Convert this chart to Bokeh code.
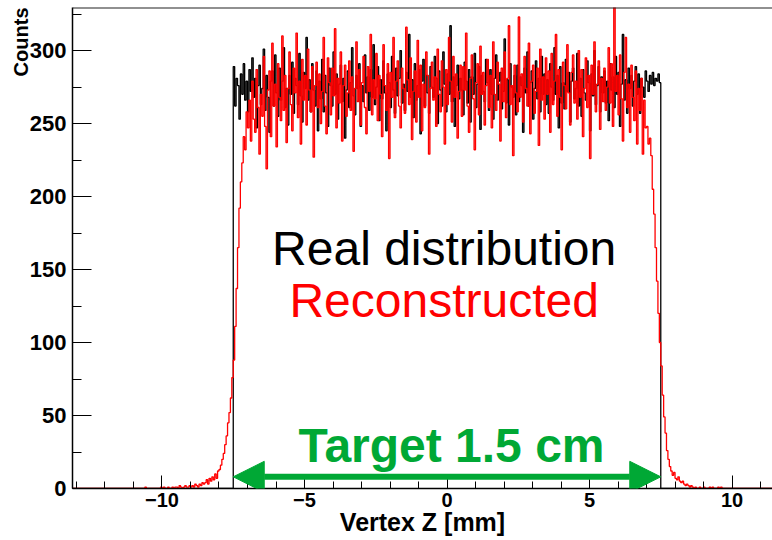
import numpy as np
from bokeh.plotting import figure
from bokeh.models import (Range1d, SingleIntervalTicker, Label, Arrow, NormalHead,
                          Span, CustomJSTickFormatter, Title)
from bokeh.embed import file_html
from bokeh.resources import INLINE

# ---------------- data ----------------
bin_width = 0.05
hist_min, hist_max = -15.0, 15.0
target_half_length = 7.5          # target 1.5 cm = 15 mm, centred on 0

real_first_edge = -7.5
real_counts = [
    289, 262, 281, 276, 253, 284, 270, 291, 266, 279, 258, 287, 272, 295, 268, 281, 247, 276, 290, 263,
    274, 301, 259, 283, 268, 244, 279, 286, 262, 297, 271, 255, 288, 266, 279, 302, 261, 274, 249, 283,
    270, 292, 257, 281, 276, 263, 298, 269, 251, 285, 274, 309, 266, 280, 258, 291, 273, 262, 286, 245,
    279, 267, 294, 258, 283, 271, 248, 288, 276, 262, 299, 270, 284, 253, 277, 290, 265, 281, 240, 273,
    286, 261, 278, 302, 269, 256, 283, 274, 291, 248, 276, 265, 297, 271, 282, 259, 287, 268, 304, 263,
    275, 289, 252, 280, 267, 293, 271, 245, 284, 278, 261, 296, 273, 257, 288, 269, 281, 300, 264, 277,
    259, 285, 272, 311, 268, 280, 254, 291, 266, 276, 287, 243, 279, 294, 262, 283, 271, 257, 289, 275,
    268, 296, 281, 250, 286, 273, 262, 299, 277, 258, 284, 270, 317, 265, 282, 248, 276, 290, 267, 281,
    273, 256, 292, 279, 264, 287, 251, 282, 270, 298, 261, 277, 289, 246, 283, 272, 265, 294, 278, 259,
    287, 270, 253, 281, 297, 266, 279, 285, 260, 272, 308, 264, 280, 249, 291, 275, 268, 283, 256, 290,
    265, 282, 276, 244, 288, 271, 299, 262, 278, 286, 253, 274, 293, 267, 281, 258, 296, 270, 284, 263,
    280, 257, 291, 275, 266, 302, 270, 283, 247, 289, 264, 278, 260, 294, 272, 285, 251, 279, 288, 267,
    274, 298, 262, 281, 255, 287, 271, 266, 293, 278, 245, 284, 269, 300, 263, 276, 289, 258, 282, 271,
    286, 264, 279, 252, 291, 273, 282, 261, 296, 270, 285, 248, 277, 311, 266, 280, 257, 288, 274, 283,
    262, 279, 289, 270, 284, 257, 281, 275, 268, 286, 279, 272, 283, 277, 285, 276, 281, 279, 284, 278,
]

reco_first_edge = -11.0
reco_left_tail = [
    0, 0, 0, 0, 0, 0, 0, 0, 1, 0, 0, 0, 0, 0, 0, 0, 0, 0, 0, 1,
    0, 1, 0, 0, 1, 0, 0, 1, 0, 1, 1, 0, 2, 1, 0, 1, 2, 1, 1, 2,
    1, 2, 1, 3, 2, 1, 3, 2, 4, 3, 4, 6, 3, 7, 5, 8, 6, 10, 7, 12,
    13, 16, 20, 24, 30, 36, 45, 52, 62, 76,
]
reco_core = [
    88, 111, 137, 165, 192, 210, 223, 241, 232, 258, 247, 266, 238, 279, 253, 244, 287, 261, 229, 270,
    255, 296, 248, 219, 273, 286, 241, 305, 262, 277, 234, 291, 268, 252, 310, 259, 283, 237, 274, 299,
    263, 245, 288, 271, 312, 254, 279, 236, 294, 266, 283, 249, 301, 273, 258, 289, 227, 276, 292, 261,
    284, 250, 272, 309, 262, 243, 295, 278, 256, 288, 269, 315, 247, 281, 264, 299, 238, 276, 290, 255,
    271, 293, 259, 282, 231, 274, 306, 265, 287, 249, 278, 296, 261, 243, 289, 272, 311, 256, 280, 267,
    298, 252, 283, 270, 241, 304, 276, 259, 291, 226, 285, 268, 309, 254, 279, 293, 262, 247, 288, 274,
    257, 316, 280, 263, 295, 239, 272, 286, 251, 307, 268, 290, 245, 277, 261, 299, 283, 229, 274, 292,
    266, 282, 248, 301, 270, 258, 293, 275, 236, 287, 263, 309, 279, 251, 296, 268, 284, 240, 272, 290,
    255, 289, 273, 312, 262, 244, 281, 297, 267, 232, 278, 291, 256, 303, 270, 285, 249, 276, 294, 261,
    283, 247, 306, 270, 259, 292, 277, 238, 288, 265, 299, 254, 281, 317, 263, 276, 228, 290, 271, 258,
    323, 268, 284, 251, 296, 274, 262, 305, 243, 279, 290, 257, 272, 288, 235, 301, 266, 282, 253, 295,
    270, 286, 244, 298, 263, 279, 311, 255, 287, 268, 232, 292, 276, 260, 304, 271, 249, 285, 297, 264,
    279, 253, 300, 268, 287, 241, 274, 295, 261, 283, 226, 290, 270, 306, 258, 277, 293, 246, 281, 265,
    288, 259, 275, 302, 264, 291, 248, 330, 272, 283, 256, 297, 267, 238, 285, 309, 261, 277, 244, 290,
    268, 252, 286, 236, 274, 259, 281, 229, 266, 247, 248, 236, 240, 228, 205, 188, 165, 142, 120, 100,
]
reco_right_tail = [
    84, 64, 49, 38, 26, 20, 15, 12, 9, 11, 7, 6, 8, 5, 4, 5, 3, 2, 3, 2,
    1, 2, 1, 0, 1, 0, 0, 1, 0, 0, 1, 0, 0, 0, 1, 0, 1, 0, 0, 0,
    1, 0, 1, 0, 0, 0, 0, 0, 0, 0,
]
reco_counts = reco_left_tail + reco_core + reco_right_tail

x_title = "Vertex Z [mm]"
y_title = "Counts"
label_real = "Real distribution"
label_reco = "Reconstructed"
label_target = "Target 1.5 cm"

# ---------------- helpers ----------------
def full_hist(first_edge, counts):
    n_total = int(round((hist_max - hist_min) / bin_width))
    n_before = int(round((first_edge - hist_min) / bin_width))
    vals = [0] * n_before + list(counts)
    vals = vals + [0] * max(0, n_total - len(vals))
    vals = vals[:n_total]
    edges = hist_min + bin_width * np.arange(n_total + 1)
    return edges, vals + [vals[-1]]

# ---------------- figure ----------------
X0, X1 = -13.14, 11.42
Y0, Y1 = 0.0, 329.5
GREEN = "#00a835"
FONT = "Liberation Sans"

p = figure(width=772, height=540, output_backend="svg", toolbar_location=None,
           x_range=Range1d(X0, X1), y_range=Range1d(Y0, Y1),
           min_border_left=72, min_border_right=0, min_border_top=7, min_border_bottom=52)
p.outline_line_color = None
p.xgrid.visible = False
p.ygrid.visible = False
p.background_fill_color = "white"
p.border_fill_color = "white"

ex, ey = full_hist(real_first_edge, real_counts)
p.step(ex, ey, mode="after", line_color="black", line_width=1.3)
rx, ry = full_hist(reco_first_edge, reco_counts)
p.step(rx, ry, mode="after", line_color="red", line_width=1.3)

# axes
for ax in (p.xaxis[0], p.yaxis[0]):
    ax.axis_line_color = "black"
    ax.axis_line_width = 1.5
    ax.major_tick_line_color = "black"
    ax.minor_tick_line_color = "black"
    ax.major_tick_out = 0
    ax.minor_tick_out = 0
    ax.major_label_text_font = FONT
    ax.major_label_text_font_style = "bold"
    ax.major_label_text_color = "black"

p.xaxis.major_label_text_font_size = "20px"
p.yaxis.major_label_text_font_size = "22px"
p.xaxis.ticker = SingleIntervalTicker(interval=5, num_minor_ticks=5)
p.yaxis.ticker = SingleIntervalTicker(interval=50, num_minor_ticks=2)
p.xaxis.major_tick_in = 13
p.xaxis.minor_tick_in = 7
p.yaxis.major_tick_in = 19
p.yaxis.minor_tick_in = 9
p.xaxis.major_label_standoff = 4
p.yaxis.major_label_standoff = 6
p.xaxis.formatter = CustomJSTickFormatter(
    code="return tick < 0 ? '\u2212' + String(-tick) : String(tick);")

# top frame line
p.add_layout(Span(location=Y1, dimension="width", line_color="#222222", line_width=2))

# axis titles
p.add_layout(Title(text=x_title, align="center", text_font=FONT, text_font_style="bold",
                   text_font_size="25px", text_color="black", standoff=-8), "below")
p.add_layout(Title(text=y_title, align="right", text_font=FONT, text_font_style="bold",
                   text_font_size="20px", text_color="black", standoff=-10), "left")

# in-plot texts
p.add_layout(Label(x=-0.1, y=164.1, text=label_real, text_align="center",
                   text_baseline="alphabetic", text_font=FONT, text_font_size="48px",
                   text_color="black"))
p.add_layout(Label(x=-0.1, y=128.6, text=label_reco, text_align="center",
                   text_baseline="alphabetic", text_font=FONT, text_font_size="48px",
                   text_color="red"))
p.add_layout(Label(x=0.16, y=29.2, text=label_target, text_align="center",
                   text_baseline="alphabetic", text_font=FONT, text_font_style="bold",
                   text_font_size="48px", text_color=GREEN))

# double arrow for the target length
p.add_layout(Arrow(x_start=-target_half_length, y_start=8.0,
                   x_end=target_half_length, y_end=8.0,
                   line_color=GREEN, line_width=6,
                   start=NormalHead(size=31, fill_color=GREEN, line_color=GREEN, line_width=1),
                   end=NormalHead(size=31, fill_color=GREEN, line_color=GREEN, line_width=1)))

open("out.html", "w").write(file_html(p, INLINE))
